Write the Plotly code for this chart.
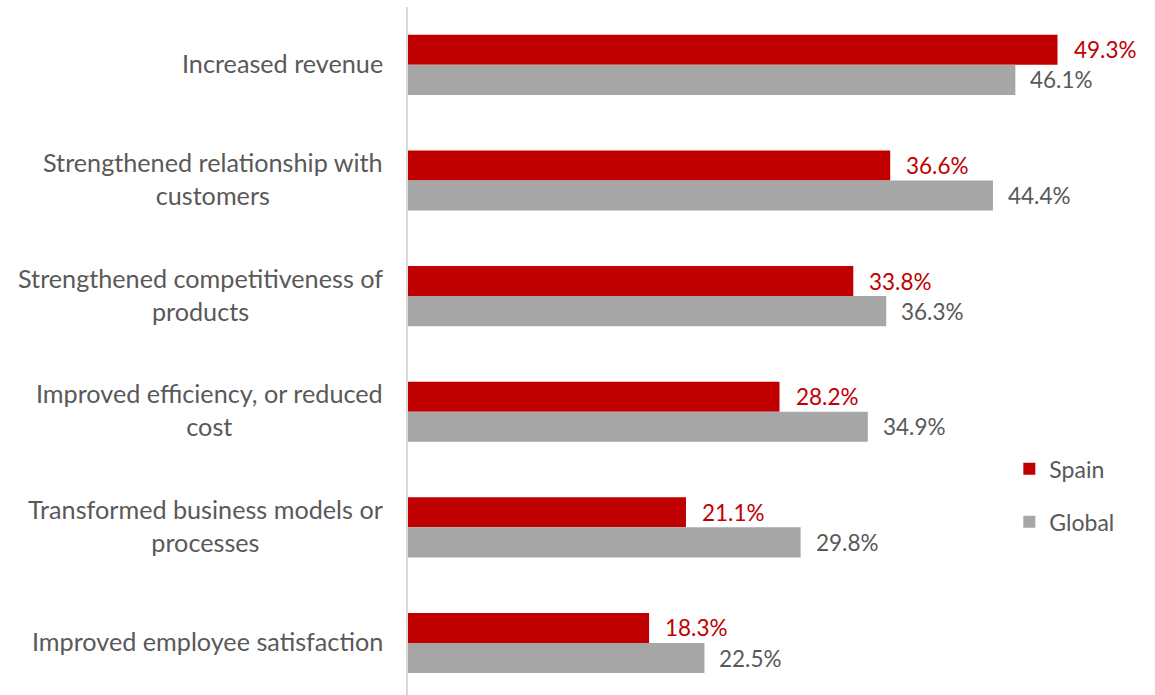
import plotly.graph_objects as go

categories = [
    "Increased revenue",
    "Strengthened relationship with<br>customers",
    "Strengthened competitiveness of<br>products",
    "Improved efficiency, or reduced<br>cost",
    "Transformed business models or<br>processes",
    "Improved employee satisfaction",
]
spain = [49.3, 36.6, 33.8, 28.2, 21.1, 18.3]
global_ = [46.1, 44.4, 36.3, 34.9, 29.8, 22.5]

RED = "#C00000"
GREY = "#A6A6A6"
TEXT = "#595959"
FONT = "Lato"

idx = list(range(len(categories)))

fig = go.Figure()
fig.add_trace(go.Bar(
    y=idx, x=spain, orientation="h", name="Spain",
    marker=dict(color=RED, line=dict(width=0)), legendgroup="spain",
))
fig.add_trace(go.Bar(
    y=idx, x=global_, orientation="h", name="Global",
    marker=dict(color=GREY, line=dict(width=0)), legendgroup="global",
))

annotations = []
# value labels just past the end of each bar
for i, (s, g) in enumerate(zip(spain, global_)):
    annotations.append(dict(
        x=s, y=i - 0.13, xref="x", yref="y", text=f"{s:.1f}%",
        showarrow=False, xanchor="left", xshift=14,
        font=dict(family=FONT, size=22.5, color=RED),
    ))
    annotations.append(dict(
        x=g, y=i + 0.13, xref="x", yref="y", text=f"{g:.1f}%",
        showarrow=False, xanchor="left", xshift=13,
        font=dict(family=FONT, size=22.5, color=TEXT),
    ))
# category labels, centred line by line
for i, c in enumerate(categories):
    annotations.append(dict(
        x=0, y=i, xref="x", yref="y", text=c,
        showarrow=False, xanchor="right", align="center",
        xshift=-23, yshift=2,
        font=dict(family=FONT, size=25.2, color=TEXT),
    ))

fig.update_layout(
    width=1155, height=695,
    margin=dict(l=408, r=0, t=7, b=0),
    paper_bgcolor="white", plot_bgcolor="white",
    barmode="group", bargap=0.48, bargroupgap=0.0,
    showlegend=True,
    legend=dict(
        x=0.805, y=0.36, xanchor="left", yanchor="top",
        traceorder="grouped", tracegroupgap=20,
        font=dict(family=FONT, size=23, color=TEXT),
        bgcolor="rgba(0,0,0,0)", itemwidth=30,
    ),
    xaxis=dict(range=[0, 56.7], showgrid=False, zeroline=False,
               showticklabels=False, ticks=""),
    yaxis=dict(range=[5.45, -0.5], showgrid=False, zeroline=False,
               showticklabels=False, ticks="",
               showline=True, linecolor="#D9D9D9", linewidth=2),
    annotations=annotations,
)

fig.write_html("out.html")
